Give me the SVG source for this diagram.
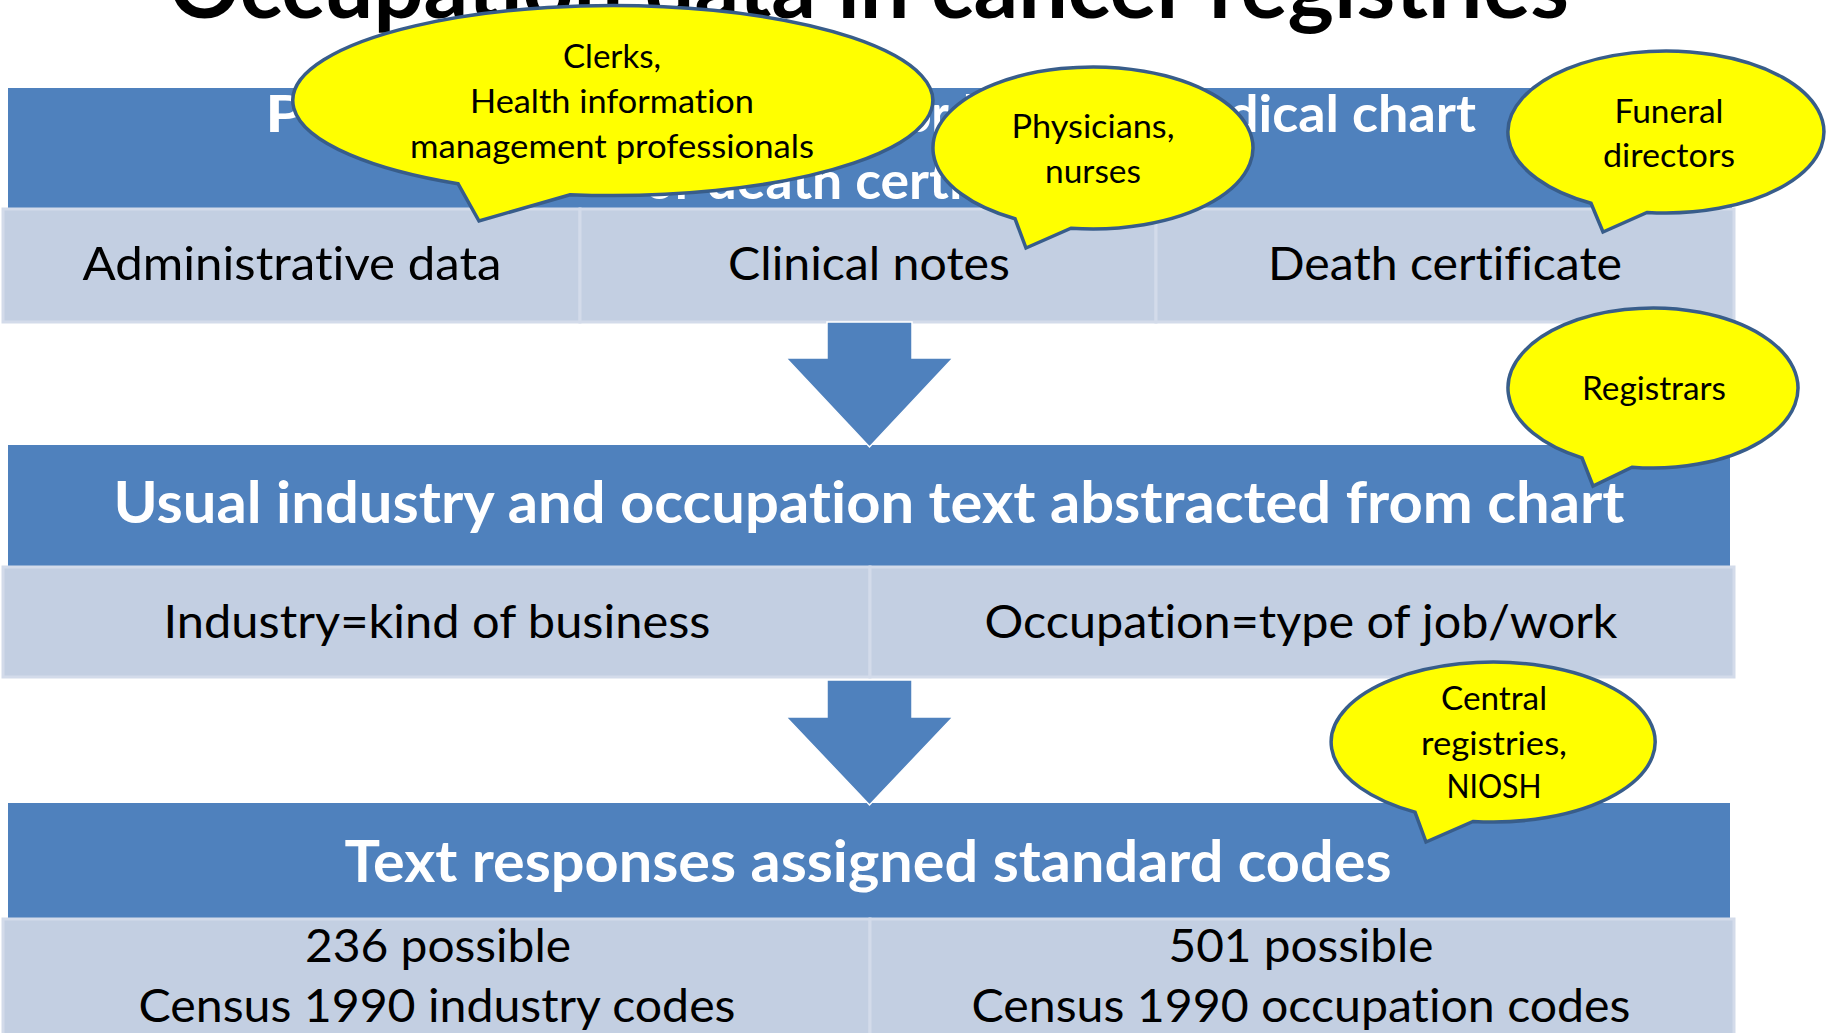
<svg xmlns="http://www.w3.org/2000/svg" width="1826" height="1033" viewBox="0 0 1826 1033">
  <style>
    text { font-variant-ligatures: none; font-feature-settings: "liga" 0, "clig" 0; }
    .band { fill: #4F81BD; }
    .cell { fill: #C3CFE2; stroke: #D3DBEA; stroke-width: 3; }
    .title { font-family: Lato, "Open Sans", "Liberation Sans", sans-serif; font-weight: 700; font-size: 86px; fill: #000; text-anchor: middle; }
    .hd { font-family: Lato, "Open Sans", "Liberation Sans", sans-serif; font-weight: 700; font-size: 58px; fill: #fff; text-anchor: middle; }
    .hd1 { font-family: Lato, "Open Sans", "Liberation Sans", sans-serif; font-weight: 700; font-size: 52px; fill: #fff; }
    .tx { font-family: Lato, "Open Sans", "Liberation Sans", sans-serif; font-weight: 400; font-size: 47px; fill: #000; text-anchor: middle; }
    .arrow { fill: #4F81BD; stroke: #fff; stroke-width: 1.5; }
    .bub { fill: #FFFF00; stroke: #385D8A; stroke-width: 3.5; stroke-linejoin: miter; }
    .bt { font-family: Lato, "Open Sans", "Liberation Sans", sans-serif; font-weight: 400; font-size: 33px; fill: #000; text-anchor: middle; }
  </style>

  <rect width="1826" height="1033" fill="#fff"/>

  <g id="title">
    <text class="title" x="869" y="18" textLength="1400" lengthAdjust="spacingAndGlyphs">Occupation data in cancer registries</text>
  </g>

  <!-- Step 1: sources -->
  <g id="step-sources">
    <rect class="band" x="8" y="88" width="1724" height="121"/>
    <text class="hd1" y="132"><tspan x="265" textLength="640" lengthAdjust="spacingAndGlyphs">Patient occupation rec</tspan><tspan x="905" textLength="323" lengthAdjust="spacingAndGlyphs">orded in the me</tspan><tspan x="1228" textLength="248" lengthAdjust="spacingAndGlyphs">dical chart</tspan></text>
    <text class="hd1" x="870" y="199" text-anchor="middle" textLength="452" lengthAdjust="spacingAndGlyphs">or death certificate</text>
  </g>
  <g id="cell-administrative">
    <rect class="cell" x="3" y="209" width="577" height="113"/>
    <text class="tx" x="292" y="280" textLength="419" lengthAdjust="spacingAndGlyphs">Administrative data</text>
  </g>
  <g id="cell-clinical">
    <rect class="cell" x="580" y="209" width="576" height="113"/>
    <text class="tx" x="869" y="280" textLength="282" lengthAdjust="spacingAndGlyphs">Clinical notes</text>
  </g>
  <g id="cell-death">
    <rect class="cell" x="1156" y="209" width="578" height="113"/>
    <text class="tx" x="1445" y="280" textLength="354" lengthAdjust="spacingAndGlyphs">Death certificate</text>
  </g>

  <!-- Step 2: abstraction -->
  <g id="step-abstraction">
    <rect class="band" x="8" y="445" width="1722" height="122"/>
    <text class="hd" x="869" y="523" textLength="1511" lengthAdjust="spacingAndGlyphs">Usual industry and occupation text abstracted from chart</text>
  </g>
  <g id="cell-industry">
    <rect class="cell" x="3" y="567" width="867" height="110"/>
    <text class="tx" x="437" y="638" textLength="547" lengthAdjust="spacingAndGlyphs">Industry=kind of business</text>
  </g>
  <g id="cell-occupation">
    <rect class="cell" x="870" y="567" width="864" height="110"/>
    <text class="tx" x="1301" y="638" textLength="633" lengthAdjust="spacingAndGlyphs">Occupation=type of job/work</text>
  </g>

  <!-- Step 3: coding -->
  <g id="step-coding">
    <rect class="band" x="8" y="803" width="1722" height="116"/>
    <text class="hd" x="868" y="882" textLength="1047" lengthAdjust="spacingAndGlyphs">Text responses assigned standard codes</text>
  </g>
  <g id="cell-industry-codes">
    <rect class="cell" x="3" y="919" width="867" height="130"/>
    <text class="tx" x="438" y="962" textLength="266" lengthAdjust="spacingAndGlyphs">236 possible</text>
    <text class="tx" x="437" y="1022" textLength="597" lengthAdjust="spacingAndGlyphs">Census 1990 industry codes</text>
  </g>
  <g id="cell-occupation-codes">
    <rect class="cell" x="870" y="919" width="864" height="130"/>
    <text class="tx" x="1301" y="962" textLength="265" lengthAdjust="spacingAndGlyphs">501 possible</text>
    <text class="tx" x="1301" y="1022" textLength="659" lengthAdjust="spacingAndGlyphs">Census 1990 occupation codes</text>
  </g>

  <!-- Block arrows between steps -->
  <g id="connectors">
    <path class="arrow" d="M827,322 H912 V358 H953 L869.5,447 L786,358 H827 Z"/>
    <path class="arrow" d="M827,680 H912 V717 H953 L869.5,805 L786,717 H827 Z"/>
  </g>

  <!-- Callouts naming who records each item -->
  <g id="callout-clerks">
    <path class="bub" d="M458,183.7 L479,221 L570,194.7 A320,95 0 1 0 458,183.7 Z"/>
    <text class="bt" x="612" y="68" textLength="98" lengthAdjust="spacingAndGlyphs">Clerks,</text>
    <text class="bt" x="612" y="113" textLength="284" lengthAdjust="spacingAndGlyphs">Health information</text>
    <text class="bt" x="612" y="158" textLength="404" lengthAdjust="spacingAndGlyphs">management professionals</text>
  </g>
  <g id="callout-physicians">
    <path class="bub" d="M1015,218.7 L1026,248 L1071,228.2 A160,81 0 1 0 1015,218.7 Z"/>
    <text class="bt" x="1093" y="138" textLength="163" lengthAdjust="spacingAndGlyphs">Physicians,</text>
    <text class="bt" x="1093" y="183" textLength="96" lengthAdjust="spacingAndGlyphs">nurses</text>
  </g>
  <g id="callout-funeral">
    <path class="bub" d="M1591,203.3 L1603,232 L1647,212.4 A158,81 0 1 0 1591,203.3 Z"/>
    <text class="bt" x="1669" y="123" textLength="109" lengthAdjust="spacingAndGlyphs">Funeral</text>
    <text class="bt" x="1669" y="167" textLength="132" lengthAdjust="spacingAndGlyphs">directors</text>
  </g>
  <g id="callout-registrars">
    <path class="bub" d="M1582,457.8 L1593,486 L1632,467.2 A145,80 0 1 0 1582,457.8 Z"/>
    <text class="bt" x="1654" y="400" textLength="144" lengthAdjust="spacingAndGlyphs">Registrars</text>
  </g>
  <g id="callout-central">
    <path class="bub" d="M1415,812.1 L1426,842 L1473,821.4 A162,80 0 1 0 1415,812.1 Z"/>
    <text class="bt" x="1494" y="710" textLength="106" lengthAdjust="spacingAndGlyphs">Central</text>
    <text class="bt" x="1494" y="755" textLength="146" lengthAdjust="spacingAndGlyphs">registries,</text>
    <text class="bt" x="1494" y="798" textLength="95" lengthAdjust="spacingAndGlyphs">NIOSH</text>
  </g>
</svg>
